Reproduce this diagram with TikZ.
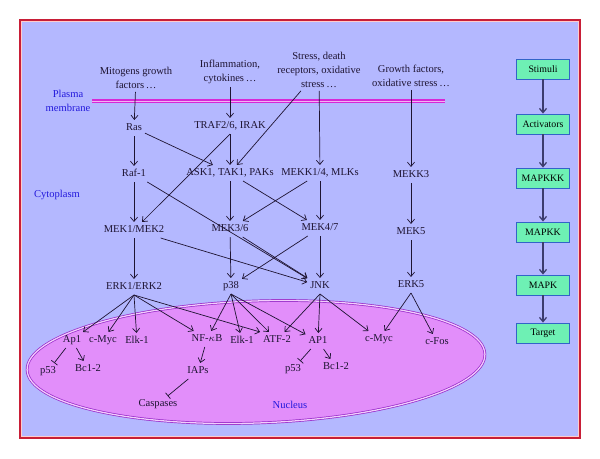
\documentclass[tikz,border=0pt]{standalone}
\usepackage{amsmath,amssymb}
\usepackage{fontspec}
\setmainfont{Liberation Serif}
\usepackage{xcolor}
\usepackage{tikz}
\usetikzlibrary{arrows.meta,positioning}
\definecolor{bgblue}{RGB}{180,184,255}
\definecolor{framered}{RGB}{200,30,55}
\definecolor{nucfill}{RGB}{226,142,250}
\definecolor{nucline}{RGB}{150,40,200}
\definecolor{memcol}{RGB}{215,40,215}
\definecolor{regblue}{RGB}{35,25,220}
\definecolor{txt}{RGB}{30,20,50}
\definecolor{boxfill}{RGB}{110,240,180}
\definecolor{boxline}{RGB}{50,100,200}
\definecolor{flowcol}{RGB}{60,60,110}
\tikzset{
  mol/.style ={inner sep=2pt,text=txt,font=\fontsize{7.5}{9}\selectfont,text height=5.5pt,text depth=1.5pt},
  src/.style ={inner sep=2pt,text=txt,font=\fontsize{7.5}{10}\selectfont,align=center},
  reg/.style ={text=regblue,font=\fontsize{7.5}{10}\selectfont,align=center},
  box/.style ={draw=boxline,fill=boxfill,line width=0.6pt,minimum width=1.32cm,minimum height=0.5cm,inner sep=1pt,font=\fontsize{7}{8}\selectfont},
  ar/.style  ={-{Straight Barb[length=3pt,width=5pt]},line width=0.5pt,draw=txt},
  inh/.style ={-{Bar[width=5.5pt]},line width=0.5pt,draw=txt},
  flow/.style={-{Straight Barb[length=3pt,width=5pt]},draw=flowcol,line width=0.9pt},
}

\begin{document}
\begin{tikzpicture}[x=0.025cm,y=-0.025cm]
  \useasboundingbox (0,0) rectangle (600,459);
  % cell and compartments
  \draw[framered,line width=1.2pt,fill=bgblue] (20,20) rectangle (580,438);
  \draw[pink!80,line width=0.5pt] (21.5,21.5) rectangle (578.5,436.5);
  \draw[nucline,line width=0.5pt,double=nucfill!45!white,double distance=0.9pt,fill=nucfill]
    (256,362) ellipse [x radius=5.725cm,y radius=1.525cm,rotate=2];
  \draw[memcol,double=memcol!35!white,double distance=0.7pt,line width=0.8pt] (92,101) -- (445,101);
  \node[reg] (plasma) at (68,101){Plasma\\membrane};
  \node[reg] (cyto) at (57,195){Cytoplasm};
  \node[reg] (nucl) at (290,405){Nucleus};

  % stimuli
  \node[src] (mito) at (136,78){Mitogens growth\\factors\,\dots};
  \node[src] (infl) at (230,72){Inflammation,\\cytokines\,\dots};
  \node[src] (stress) at (319,70){Stress, death\\receptors, oxidative\\stress\,\dots};
  \node[src] (growth) at (411,76){Growth factors,\\oxidative stress\,\dots};

  % cascade
  \node[mol] (ras) at (134,128){Ras};
  \node[mol] (raf) at (134,174){Raf-1};
  \node[mol] (traf) at (230,126){TRAF2/6, IRAK};
  \node[mol] (ask) at (230,173){ASK1, TAK1, PAKs};
  \node[mol] (mekk14) at (320,173){MEKK1/4, MLKs};
  \node[mol] (mekk3) at (411,175){MEKK3};
  \node[mol] (mek12) at (134,230){MEK1/MEK2};
  \node[mol] (mek36) at (230,229){MEK3/6};
  \node[mol] (mek47) at (320,228){MEK4/7};
  \node[mol] (mek5) at (411,232){MEK5};
  \node[mol] (erk12) at (134,287){ERK1/ERK2};
  \node[mol] (p38) at (231,286){p38};
  \node[mol] (jnk) at (320,286){JNK};
  \node[mol] (erk5) at (411,285){ERK5};

  % nuclear targets
  \node[mol] (ap1) at (72,340){Ap1};
  \node[mol] (cmyc) at (103,340){c-Myc};
  \node[mol] (elk) at (137,341){Elk-1};
  \node[mol] (nfkb) at (207,339){NF-$\kappa$B};
  \node[mol] (elkb) at (242,341){Elk-1};
  \node[mol] (atf) at (277,340){ATF-2};
  \node[mol] (apb) at (318,341){AP1};
  \node[mol] (cmycb) at (379,339){c-Myc};
  \node[mol] (cfos) at (437,342){c-Fos};
  \node[mol] (p53) at (48,371){p53};
  \node[mol] (bcl) at (88,369){Bc1-2};
  \node[mol] (iaps) at (198,371){IAPs};
  \node[mol] (casp) at (158,404){Caspases};
  \node[mol] (p53b) at (293,369){p53};
  \node[mol] (bclb) at (336,367){Bc1-2};

  \draw[ar] (mito) -- (ras);
  \draw[ar] (infl) -- (traf);
  \draw[ar] (stress) -- (mekk14);
  \draw[ar] (stress) -- (ask);
  \draw[ar] (growth) -- (mekk3);
  \draw[ar] (ras) -- (raf);
  \draw[ar] (ras) -- (ask);
  \draw[ar] (traf) -- (ask);
  \draw[ar] (traf.south) -- (mek12);
  \draw[ar] (raf) -- (mek12);
  \draw[ar] (raf) -- (jnk);
  \draw[ar] (ask) -- (mek36);
  \draw[ar] (ask) -- (mek47);
  \draw[ar] (mekk14) -- (mek36);
  \draw[ar] (mekk14) -- (mek47);
  \draw[ar] (mekk3) -- (mek5);
  \draw[ar] (mek12) -- (erk12);
  \draw[ar] (mek12) -- (jnk);
  \draw[ar] (mek36) -- (p38);
  \draw[ar] (mek36) -- (jnk);
  \draw[ar] (mek47) -- (jnk);
  \draw[ar] (mek47) -- (p38);
  \draw[ar] (mek5) -- (erk5);

  \draw[ar] (erk12.south) -- (ap1);
  \draw[ar] (erk12.south) -- (cmyc);
  \draw[ar] (erk12.south) -- (elk);
  \draw[ar] (erk12.south) -- (nfkb);
  \draw[ar] (erk12.south) -- (atf.north west);
  \draw[ar] (p38.south) -- (nfkb);
  \draw[ar] (p38.south) -- (elkb);
  \draw[ar] (p38.south) -- (atf);
  \draw[ar] (p38.south) -- (apb);
  \draw[ar] (jnk.south) -- (atf);
  \draw[ar] (jnk.south) -- (apb);
  \draw[ar] (jnk.south) -- (cmycb);
  \draw[ar] (erk5.south) -- (cmycb);
  \draw[ar] (erk5.south) -- (cfos);
  \draw[inh] (ap1) -- (p53);
  \draw[ar] (ap1) -- (bcl);
  \draw[ar] (nfkb) -- (iaps);
  \draw[inh] (iaps) -- (casp);
  \draw[inh] (apb) -- (p53b);
  \draw[ar] (apb) -- (bclb);

  % generic module
  \node[box] (stim) at (543,69){Stimuli};
  \node[box] (act) at (543,124){Activators};
  \node[box] (mapkkk) at (543,178){MAPKKK};
  \node[box] (mapkk) at (543,232){MAPKK};
  \node[box] (mapk) at (543,285){MAPK};
  \node[box] (target) at (543,333){Target};
  \draw[flow] (stim) -- (act);
  \draw[flow] (act) -- (mapkkk);
  \draw[flow] (mapkkk) -- (mapkk);
  \draw[flow] (mapkk) -- (mapk);
  \draw[flow] (mapk) -- (target);
\end{tikzpicture}
\end{document}
